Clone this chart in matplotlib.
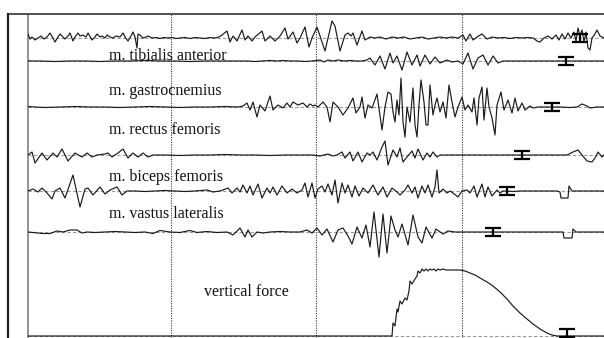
import numpy as np
import matplotlib.pyplot as plt
from matplotlib.lines import Line2D

# turning points of each trace: (time ms, amplitude)
emg_top = [(28, 4), (30, -1), (32, 1), (35, -2), (38, 0), (41, 2), (44, -1), (47, 1), (50, 5), (53, 0),
           (55, -4), (58, 1), (60, 4), (63, 1), (65, -1), (68, 2), (70, 5), (73, -3), (75, 1), (78, 5),
           (80, 2), (83, 3), (86, 1), (88, 5), (92, -2), (95, 1), (97, 4), (100, 1), (102, 2), (105, 0),
           (107, 3), (110, 1), (113, 0), (116, 2), (120, 1), (123, 5), (125, 1), (128, -3), (131, 2),
           (133, 6), (135, 1), (137, -10), (138, 4), (140, 3), (143, 0), (146, 1), (148, 2), (152, 0),
           (156, 0.5), (160, -0.5), (164, 0.5), (168, 0), (172, 0.5), (176, -0.5), (180, 0), (185, 0.5),
           (190, -0.5), (195, 0.5), (200, 0), (205, -0.5), (210, 0.5), (215, 0), (219, 1), (222, 3),
           (227, 7), (230, -4), (233, 2), (237, -3), (242, 8), (245, -2), (248, 2), (252, -3), (255, 1),
           (262, 7), (265, -3), (270, 2), (275, -3), (280, 2), (285, 10), (288, -1), (293, 6), (297, -5),
           (300, 0), (305, 11), (309, -9), (312, 0), (317, 11), (320, 2), (325, -13), (332, 17),
           (335, 12), (340, -13), (345, 3), (348, 5), (351, 2), (353, 5), (357, -7), (362, 7), (365, -2),
           (370, 1), (375, 0), (380, 1), (386, -1), (392, 1), (398, 0), (404, 1), (410, -1), (416, 0),
           (422, 1), (428, -1), (434, 0), (440, 1), (446, 0), (452, 1), (458, 0), (463, 3), (466, -3),
           (470, 4), (473, -2), (477, 1), (482, 4), (487, -1), (492, 1), (498, 0), (504, 0.5),
           (510, -0.5), (516, 0.5), (522, 0), (528, 0.5), (533, 0), (537, -3), (540, -4), (544, 0),
           (548, 2), (552, -1), (556, 3), (559, -2), (562, 4), (565, -1), (568, 5), (571, 0), (574, 6),
           (576, -3), (578, 10), (580, 2), (582, 8), (584, -4), (586, 6), (588, -10), (590, -12),
           (592, 0), (595, 4), (597, 8), (600, 2), (604, 0)]

tibialis = [(28, 0.5), (30, 0), (40, 0), (55, -0.5), (70, 0), (85, 0), (100, -0.5), (115, 0), (130, 0),
            (145, 0.5), (160, 0), (175, 0), (190, -0.5), (205, 0), (220, 0), (235, 0), (247, 0),
            (255, -0.5), (262, 0), (270, 0.5), (277, 0), (283, 0.5), (290, 0), (298, 0), (305, -0.5),
            (312, 0), (320, 1), (324, -1), (328, 1), (333, 0), (338, 1), (344, 0), (350, 0.5), (356, 0),
            (362, 0), (367, 1), (370, 3), (375, -4), (380, 5), (385, -8), (390, 8), (393, -2), (397, 5),
            (402, -9), (407, 9), (412, -4), (417, 6), (420, -5), (425, 6), (430, -3), (435, 4),
            (440, -2), (447, 1), (452, -1), (458, 0), (463, -3), (468, 8), (473, -8), (478, 3), (483, 6),
            (488, -4), (493, 5), (498, -2), (503, 0), (510, 0), (520, 0), (530, 0), (545, 0), (560, 0),
            (575, 0), (590, 0), (604, 0)]

gastrocnemius = [(28, 0.5), (35, 0), (45, -0.5), (60, 0), (75, 0.5), (90, 0), (105, 0), (120, -0.5),
                 (135, 0), (150, 0.5), (165, 0), (180, -0.5), (195, 0), (210, 0), (225, 0.5), (238, 0),
                 (243, 1), (247, 4), (250, -3), (253, 5), (257, -10), (260, 2), (265, -4), (270, 11),
                 (273, -3), (278, 2), (283, -1), (287, 4), (290, 0), (293, 5), (298, 2), (303, 4),
                 (307, 0), (310, 3), (313, 1), (315, 2), (318, 0), (323, 5), (327, 0), (330, -15),
                 (333, 5), (338, 0), (343, -8), (348, -1), (353, 9), (356, -6), (360, 0), (362, 10),
                 (365, -11), (368, 2), (372, -1), (377, 13), (382, -23), (385, 0), (388, 15), (391, 13),
                 (393, -5), (395, -15), (397, 7), (399, -8), (401, 29), (403, -15), (405, -30), (407, 0),
                 (410, -15), (413, 19), (415, -18), (417, -30), (419, 2), (421, 27), (424, 5),
                 (426, -18), (428, -18), (430, 22), (433, -8), (435, 2), (437, 9), (440, -5), (443, 5),
                 (446, -11), (449, 22), (452, 5), (455, -10), (458, 0), (462, 10), (465, -3), (468, 2),
                 (472, -5), (474, 9), (477, -18), (479, 9), (482, 20), (484, -13), (487, 19), (489, 0),
                 (492, -11), (495, -28), (497, 2), (501, 15), (504, -3), (508, 7), (512, -6), (515, 9),
                 (518, -4), (522, 4), (525, -3), (530, 1), (533, -1), (538, 0), (545, 0), (560, 0),
                 (570, -0.5), (577, 0), (582, 3), (587, 1), (590, -1), (597, 0), (604, 0)]

rectus = [(28, 0), (32, 3), (35, -8), (42, 2), (47, -5), (53, 2), (57, -2), (62, 6), (68, -6), (75, 2),
          (82, -2), (87, 2), (92, -2), (97, 0), (105, 1), (108, 2), (112, -2), (118, 2), (123, 6),
          (128, -3), (133, 2), (138, -2), (143, 2), (148, -2), (153, 0), (165, 0), (180, -0.5),
          (195, 0), (210, 0), (225, 0.5), (240, 0), (255, 0), (270, -0.5), (285, 0), (300, 0), (312, 0),
          (320, -1), (328, 1), (333, -1), (337, 0), (342, 3), (345, -3), (350, 3), (353, -6), (358, 3),
          (362, -7), (367, 2), (370, 0), (373, 3), (377, -5), (382, 8), (385, 14), (388, -10), (393, 5),
          (397, -2), (400, 7), (403, -7), (407, -2), (412, 4), (415, -3), (418, 6), (423, -5), (427, 2),
          (430, -2), (433, 3), (437, -2), (440, 0), (450, 0), (465, 0), (480, 0), (500, 0), (520, 0),
          (540, 0), (555, 0), (567, 0), (573, 3), (578, 5), (582, 0), (587, -6), (592, -7), (595, -3),
          (598, 3), (602, -2), (604, 0)]

biceps = [(28, 0), (33, 2), (38, -1), (42, 3), (47, -2), (52, -8), (55, 0), (60, 3), (65, -7), (73, 16),
          (80, -16), (85, 2), (88, 3), (93, -4), (100, 4), (105, -3), (110, 1), (117, 4), (122, -4),
          (127, 0), (135, 0), (145, -0.5), (155, 0), (165, 0.5), (175, 0), (185, -0.5), (195, 0),
          (207, 1), (213, -1), (220, 0), (228, 3), (232, -2), (237, 3), (240, -1), (243, 6), (247, -2),
          (250, 5), (253, -4), (258, 7), (262, -7), (267, 3), (270, -2), (273, 4), (277, -4), (282, 5),
          (287, -2), (292, 2), (297, -2), (302, 1), (305, 8), (308, -6), (312, 8), (315, -7), (318, 2),
          (322, 5), (325, -1), (328, 7), (332, -4), (335, 11), (338, -12), (342, 8), (345, -2),
          (348, 6), (352, -6), (355, 5), (359, -5), (363, 3), (368, -2), (373, 6), (378, -4), (383, 4),
          (387, -6), (392, 3), (397, -1), (400, -4), (405, 1), (408, 6), (412, -2), (415, 4), (418, -7),
          (422, 5), (425, -2), (428, 6), (432, -6), (435, 4), (437, 21), (439, -2), (443, 2), (447, -2),
          (450, 0), (453, -2), (458, -6), (462, 0), (467, 1), (470, -2), (474, 5), (477, -6), (482, 7),
          (485, -6), (488, 4), (492, -5), (497, 1), (500, -2), (503, 0), (513, -0.5), (520, 0),
          (533, 0), (545, 0), (557, 0), (560, -1), (561, -7), (568, -7), (569, 5), (572, 0), (580, 0),
          (590, 0), (604, 0)]

vastus = [(28, 0), (33, -0.5), (43, -1.5), (50, -1.5), (57, 1), (63, 0), (70, 2), (77, 2), (82, -1),
          (87, 0), (95, -0.5), (105, 0), (115, 0.5), (125, 0), (135, -0.5), (145, 0), (153, -1.5),
          (160, 1.5), (170, 0), (180, -0.5), (190, 1.5), (197, -0.5), (207, 0.5), (217, -0.5), (227, 0),
          (233, -3), (240, 4), (245, -5), (248, 2), (252, -5), (257, 0), (263, -1), (270, 0),
          (280, 0.5), (290, 0), (300, 0), (307, 2), (312, -1), (317, 4), (322, -3), (327, 3),
          (333, -10), (338, 2), (343, 4), (348, -4), (352, -12), (357, 5), (362, -6), (366, 7),
          (370, -15), (374, 20), (379, -25), (383, 18), (387, -21), (391, 16), (395, 2), (398, -5),
          (402, 8), (408, -13), (413, 17), (418, -5), (422, -11), (426, 5), (432, -6), (436, 3),
          (443, -2), (448, 1), (455, 0), (470, 0), (485, 0), (500, 0), (515, 0), (530, 0), (545, 0),
          (558, 0), (563, 0), (564, -6), (572, -6), (573, 3), (576, 0), (585, 0), (604, 0)]

vertical_force = [(28, 0), (100, 0), (200, 0), (300, 0), (392, 0), (393, 13), (395, 10), (397, 27),
                  (398, 24), (400, 35), (402, 32), (405, 38), (407, 36), (409, 45), (410, 55), (412, 52),
                  (415, 57), (417, 60), (418, 65), (420, 63), (422, 67), (424, 65), (426, 67), (428, 65),
                  (430, 67), (432, 66), (434, 67), (436, 65), (438, 67), (440, 66), (443, 67), (446, 66),
                  (450, 66), (455, 66), (460, 66), (465, 65), (470, 63), (475, 61), (480, 58), (487, 54),
                  (493, 50), (500, 44), (507, 37), (513, 30), (520, 23), (527, 17), (533, 12), (540, 7),
                  (547, 3), (552, 1), (557, 0), (604, 0)]

traces = [emg_top, tibialis, gastrocnemius, rectus, biceps, vastus, vertical_force]
labels = ["m. tibialis anterior", "m. gastrocnemius", "m. rectus femoris",
          "m. biceps femoris", "m. vastus lateralis", "vertical force"]

# end-of-activity marks per trace (ms) and the time grid
offset_t = [580, 566, 552, 522, 507, 493, 567]
offset_level = [0, 0, 0, 0, 0, 0, 3]
grid_t = [171, 316, 462]

W, H = 604, 338
fig = plt.figure(figsize=(W / 100, H / 100), dpi=100)
ax = fig.add_axes([28 / W, 0, 1 - 28 / W, (H - 14) / H])
ax.set_xlim(28, 604)
ax.set_ylim(0, H - 14)

# channel baselines (pixel rows in the record, counted from the top)
rows = [38, 61, 107, 155, 191, 232, 336]
base = [H - r for r in rows]

for b in base:
    ax.axhline(b, color='#9a9a9a', lw=0.8, dashes=(3, 2), zorder=1)

for t in grid_t:
    ax.axvline(t, color='#333333', lw=0.8, ls=(0, (1, 1.2)), zorder=2)

for tr, b in zip(traces, base):
    tt, aa = np.array(tr).T
    ax.plot(tt, aa + b, color='#1a1a1a', lw=0.85, zorder=3)

for t, lev, b in zip(offset_t, offset_level, base):
    ax.errorbar(t, b + lev, yerr=4, fmt='none', ecolor='black', elinewidth=1.6,
                capsize=5.5, capthick=1.6, zorder=4)

label_rows = [60, 95, 134, 181, 218, 296]
label_x = [109, 109, 109, 109, 109, 204]
for txt, r, x in zip(labels, label_rows, label_x):
    ax.text(x, H - r, txt, fontsize=11.5, family='Liberation Serif', va='baseline', ha='left',
            color='#111111', zorder=5)

for s in ['top', 'right', 'bottom']:
    ax.spines[s].set_visible(False)
ax.spines['left'].set_color('#8a8a8a')
ax.spines['left'].set_linewidth(1.3)
ax.set_xticks([])
ax.set_yticks([])

# outer frame
fig.add_artist(Line2D([8 / W, 1], [1 - 14 / H, 1 - 14 / H], color='#444444', lw=1.3))
fig.add_artist(Line2D([8 / W, 8 / W], [0, 1 - 14 / H], color='#222222', lw=1.6))

fig.savefig('out.png', dpi=100)
